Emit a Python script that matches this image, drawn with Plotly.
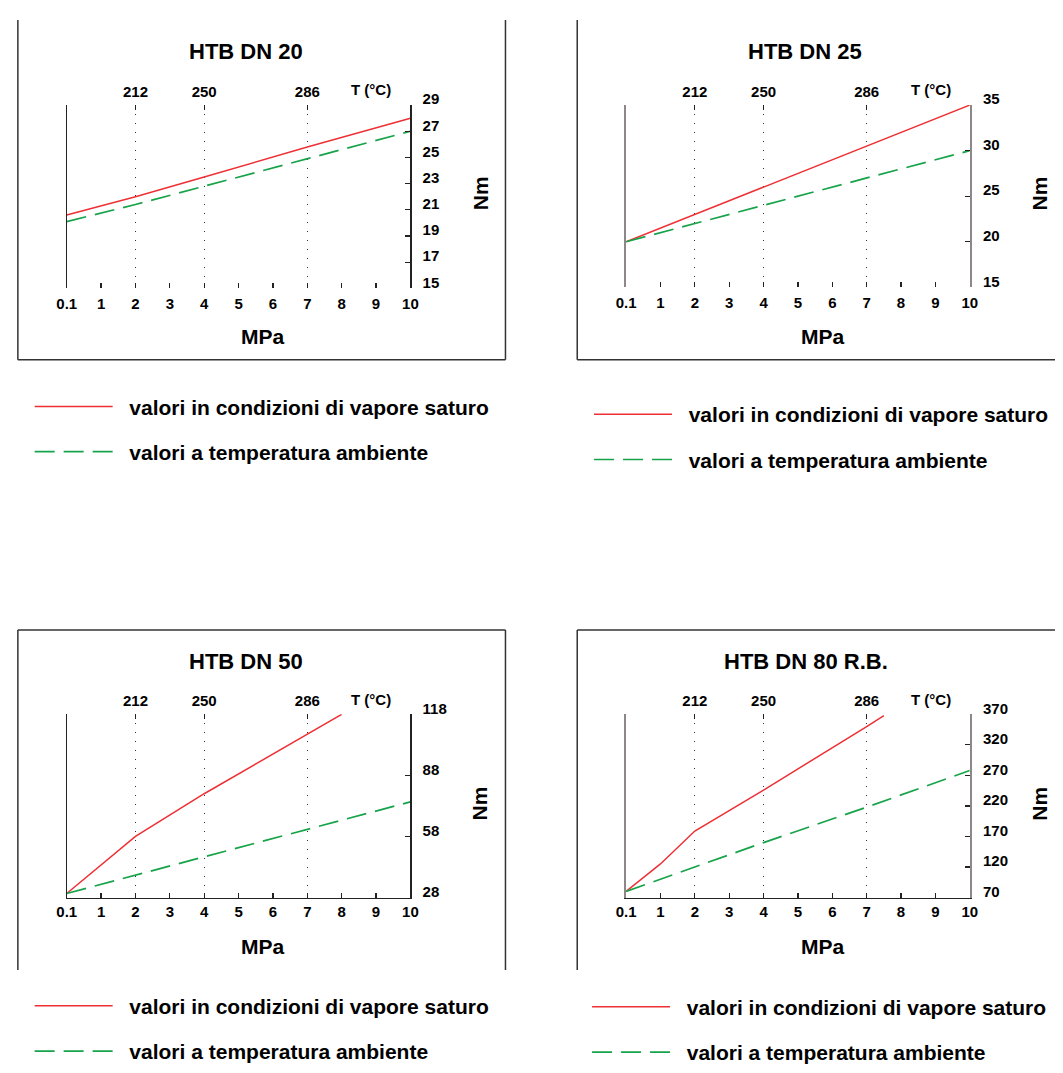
import plotly.graph_objects as go

W, H = 1063, 1073

# ---------------- data ----------------
mpa_labels = ["0.1", "1", "2", "3", "4", "5", "6", "7", "8", "9", "10"]
temp_pressures = [2, 4, 7]
temp_labels = ["212", "250", "286"]

titles = ["HTB DN 20", "HTB DN 25", "HTB DN 50", "HTB DN 80 R.B."]

dn20_sat_x = [0.1, 2, 4, 7, 10]
dn20_sat_y = [20.6, 22.0, 23.5, 25.8, 28.0]
dn20_amb_x = [0.1, 2, 4, 7, 10]
dn20_amb_y = [20.1, 21.4, 22.8, 24.9, 27.0]

dn25_sat_x = [0.1, 2, 4, 7, 10]
dn25_sat_y = [20.0, 23.0, 26.0, 30.5, 35.0]
dn25_amb_x = [0.1, 2, 4, 7, 10]
dn25_amb_y = [20.0, 22.0, 24.0, 27.0, 30.0]

dn50_sat_x = [0.1, 2, 4, 7, 8]
dn50_sat_y = [30, 58, 79, 108, 118]
dn50_amb_x = [0.1, 2, 4, 7, 10]
dn50_amb_y = [30, 39, 48, 61.5, 75]

dn80_sat_x = [0.1, 1, 2, 4, 7, 7.5]
dn80_sat_y = [80, 125, 179, 246, 350, 368]
dn80_amb_x = [0.1, 1, 2, 4, 7, 10]
dn80_amb_y = [80, 100, 120, 160, 218, 278]

dn20_yticks = [15, 17, 19, 21, 23, 25, 27, 29]
dn25_yticks = [15, 20, 25, 30, 35]
dn50_yticks = [28, 58, 88, 118]
dn80_yticks = [70, 120, 170, 220, 270, 320, 370]

sat_name = "valori in condizioni di vapore saturo"
amb_name = "valori a temperatura ambiente"

# ---------------- styling ----------------
FONT = "Liberation Sans, Arial, Helvetica, sans-serif"
RED = "#ee3035"
GREEN = "#17a349"
DARK = "#222222"
GRAY = "#8e8787"
GAP = "\u00a0\u00a0"  # extra space between legend key and legend text


def X(px):
    return px / W


def Y(py):
    return 1 - py / H


def xpos(p):
    # the first tick (0.1 MPa) sits at the axis origin, the others are evenly spaced
    return [0 if v <= 0.1 else v for v in p]


panels = [
    dict(sat=(dn20_sat_x, dn20_sat_y), amb=(dn20_amb_x, dn20_amb_y), yt=dn20_yticks,
         px=(57.7, 407.3), py=(92, 279), axc=DARK, axw=1.2, bottom=False,
         title_xy=(240, 37), mpa_xy=(257, 328), nm_xy=(478, 182), top_y=78,
         leg_y=401, leg_x=25, xstand=5),
    dict(sat=(dn25_sat_x, dn25_sat_y), amb=(dn25_amb_x, dn25_amb_y), yt=dn25_yticks,
         px=(626.7, 976.3), py=(92, 278), axc=GRAY, axw=2.2, bottom=False,
         title_xy=(809, 37), mpa_xy=(827, 328), nm_xy=(1047, 182), top_y=78,
         leg_y=409, leg_x=594, xstand=5),
    dict(sat=(dn50_sat_x, dn50_sat_y), amb=(dn50_amb_x, dn50_amb_y), yt=dn50_yticks,
         px=(57.7, 407.3), py=(714, 901), axc=DARK, axw=1.2, bottom=True,
         title_xy=(240, 660), mpa_xy=(257, 951), nm_xy=(478, 805), top_y=701,
         leg_y=1013, leg_x=25, xstand=0),
    dict(sat=(dn80_sat_x, dn80_sat_y), amb=(dn80_amb_x, dn80_amb_y), yt=dn80_yticks,
         px=(626.7, 976.3), py=(714, 901), axc=GRAY, axw=2.2, bottom=True,
         title_xy=(810, 660), mpa_xy=(827, 951), nm_xy=(1047, 805), top_y=701,
         leg_y=1014, leg_x=592, xstand=0),
]

fig = go.Figure()
layout = dict(
    width=W, height=H, margin=dict(l=0, r=0, t=0, b=0),
    paper_bgcolor="white", plot_bgcolor="rgba(0,0,0,0)",
    font=dict(family=FONT, size=14, color="black", weight="bold"),
    showlegend=True,
)
annotations = []
shapes = []


def label(text, xy, size, angle=0):
    return dict(text=text, x=X(xy[0]), y=Y(xy[1]), xref="paper", yref="paper",
                xanchor="center", yanchor="middle", showarrow=False, textangle=angle,
                font=dict(size=size, family=FONT, weight="bold", color="black"))


for i, p in enumerate(panels):
    n = i + 1
    xa = "x" if n == 1 else f"x{n}"
    ya = "y" if n == 1 else f"y{n}"
    top_n = n + 4
    leg = "legend" if n == 1 else f"legend{n}"

    sx, sy = p["sat"]
    ax_, ay_ = p["amb"]
    fig.add_trace(go.Scatter(x=xpos(sx), y=sy, mode="lines", name=GAP + sat_name,
                             line=dict(color=RED, width=1.5), xaxis=xa, yaxis=ya,
                             legend=leg, legendgroup=f"s{n}", hoverinfo="skip"))
    fig.add_trace(go.Scatter(x=xpos(ax_), y=ay_, mode="lines", name=GAP + amb_name,
                             line=dict(color=GREEN, width=1.7, dash="20px,9px"),
                             xaxis=xa, yaxis=ya, legend=leg, legendgroup=f"a{n}",
                             hoverinfo="skip"))

    x0, x1 = p["px"]
    y0, y1 = p["py"]
    yt = p["yt"]
    dom_x = [X(x0), X(x1)]
    dom_y = [Y(y1), Y(y0)]

    layout["xaxis" if n == 1 else f"xaxis{n}"] = dict(
        domain=dom_x, anchor=ya, range=[0, 10],
        tickvals=list(range(11)), ticktext=mpa_labels,
        ticks="inside", ticklen=5, tickwidth=1.2, tickcolor=DARK,
        showline=p["bottom"], linecolor=DARK, linewidth=1.5,
        showgrid=False, zeroline=False,
        tickfont=dict(size=15, family=FONT, weight="bold"),
        ticklabelstandoff=p["xstand"], fixedrange=True,
    )
    layout[f"xaxis{top_n}"] = dict(
        overlaying=xa, anchor=ya, side="top", range=[0, 10],
        tickvals=temp_pressures, ticktext=temp_labels,
        ticks="inside", ticklen=5, tickwidth=1.2, tickcolor=DARK,
        showline=False, showgrid=True, gridcolor="#333333", gridwidth=1,
        griddash="1px,8px", zeroline=False,
        tickfont=dict(size=15, family=FONT, weight="bold"),
        ticklabelstandoff=4, fixedrange=True,
    )
    layout["yaxis" if n == 1 else f"yaxis{n}"] = dict(
        domain=dom_y, anchor=xa, side="right", range=[yt[0], yt[-1]],
        tickvals=yt, ticks="inside", ticklen=5, tickwidth=1.2, tickcolor=DARK,
        showline=True, mirror=True, linecolor=p["axc"], linewidth=p["axw"],
        showgrid=False, zeroline=False,
        tickfont=dict(size=15, family=FONT, weight="bold"),
        ticklabelstandoff=8, ticklabelshift=-6, fixedrange=True,
    )
    # invisible trace so the top (temperature) axis is drawn
    fig.add_trace(go.Scatter(x=[0, 10], y=[yt[0], yt[0]], mode="lines",
                             line=dict(width=0, color="rgba(0,0,0,0)"),
                             xaxis=f"x{top_n}", yaxis=ya, showlegend=False,
                             hoverinfo="skip"))

    annotations += [
        label(titles[i], p["title_xy"], 22),
        label("MPa", p["mpa_xy"], 21),
        label("Nm", p["nm_xy"], 21, -90),
        dict(text="T (°C)", x=8.86, xref=xa, y=Y(p["top_y"] - 2), yref="paper",
             xanchor="center", yanchor="middle", showarrow=False,
             font=dict(size=15, family=FONT, weight="bold", color="black")),
    ]

    layout[leg] = dict(
        x=X(p["leg_x"] - 5), y=Y(p["leg_y"] - 22), xanchor="left", yanchor="top",
        bgcolor="rgba(0,0,0,0)", borderwidth=0, itemwidth=78,
        tracegroupgap=15, traceorder="grouped",
        font=dict(size=21, family=FONT, weight="bold", color="black"),
        itemclick=False, itemdoubleclick=False,
    )

# panel frames
frame = dict(type="line", xref="paper", yref="paper",
             line=dict(color="#333333", width=1.5))
frames_px = [
    (8, 5, 8, 352), (8, 352, 504, 352), (504, 5, 504, 352),
    (577, 5, 577, 352), (577, 352, 1063, 352),
    (8, 628, 504, 628), (8, 628, 8, 975), (504, 628, 504, 975),
    (577, 628, 1063, 628), (577, 628, 577, 975),
]
for (a, b, c, d) in frames_px:
    shapes.append(dict(frame, x0=X(a), y0=Y(b), x1=X(c), y1=Y(d)))

layout["annotations"] = annotations
layout["shapes"] = shapes
fig.update_layout(**layout)

fig.write_html(
    "out.html",
    config={"displayModeBar": False, "staticPlot": True},
    post_script="document.body.style.margin='0';document.body.style.overflow='hidden';",
)
